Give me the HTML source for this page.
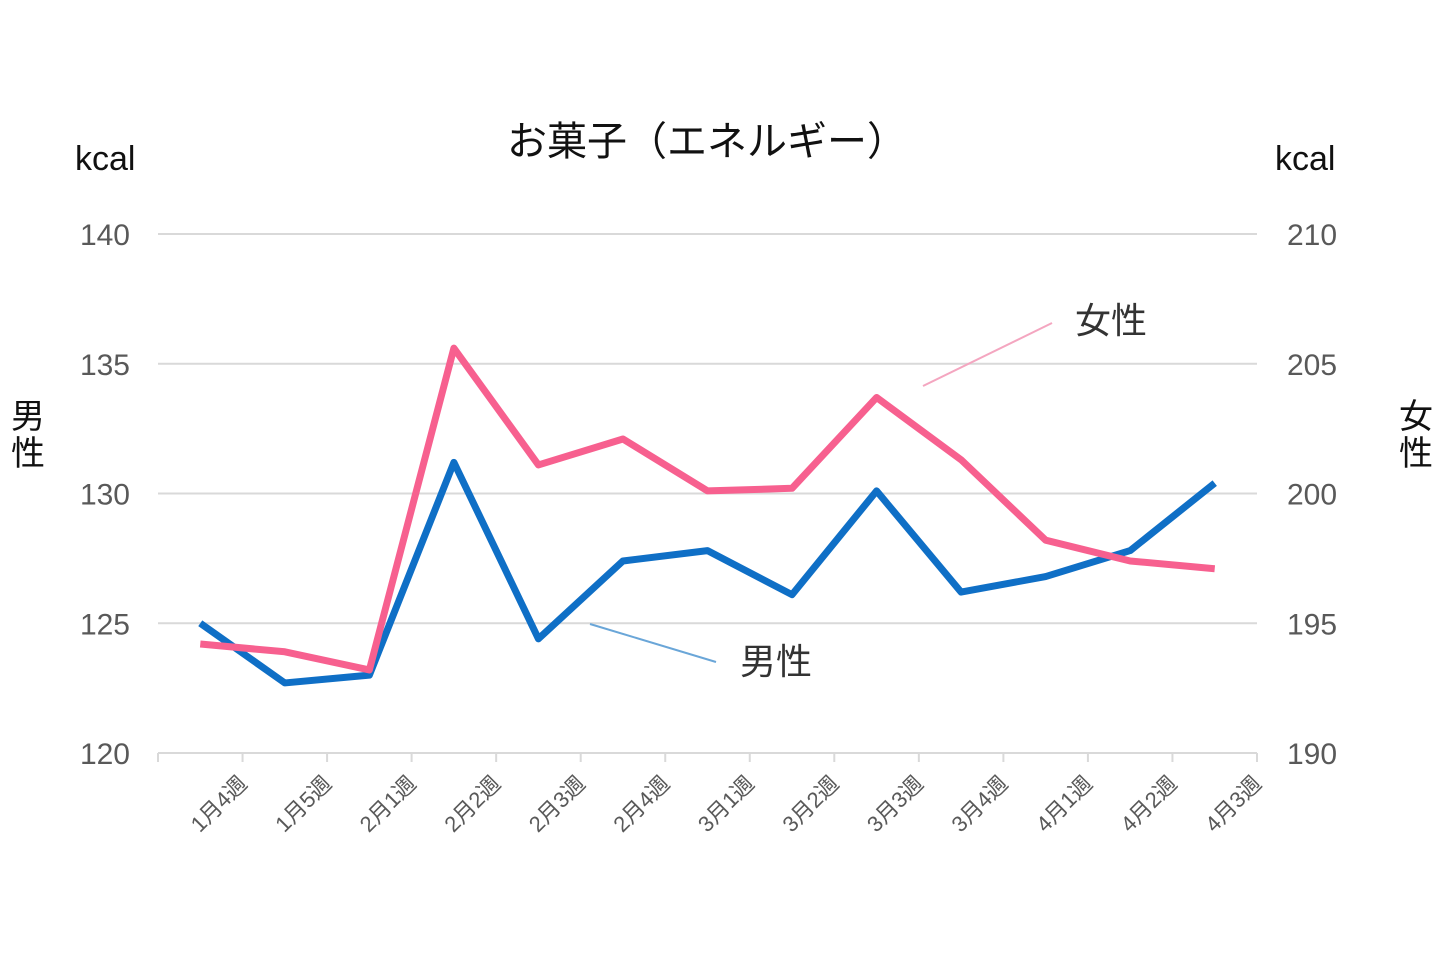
<!DOCTYPE html>
<html><head><meta charset="utf-8"><style>
html,body{margin:0;padding:0;background:#fff;}
svg{display:block;font-family:"Liberation Sans","Noto Sans CJK JP",sans-serif;}
</style></head><body>
<svg id="chart" width="1440" height="960" viewBox="0 0 1440 960">
<text x="707" y="155" text-anchor="middle" font-size="40" fill="#111">お菓子（エネルギー）</text>
<text x="75" y="170" font-size="34" fill="#111">kcal</text>
<text x="1275" y="170" font-size="34" fill="#111">kcal</text>
<text x="28" y="428" text-anchor="middle" font-size="34" fill="#111">男</text>
<text x="28" y="465" text-anchor="middle" font-size="34" fill="#111">性</text>
<text x="1416" y="428" text-anchor="middle" font-size="34" fill="#111">女</text>
<text x="1416" y="465" text-anchor="middle" font-size="34" fill="#111">性</text>
<g id="grid"></g><g id="xaxis"></g><g id="lines"></g>
<line x1="1052" y1="323" x2="923" y2="386" stroke="#f4a6c0" stroke-width="2"/>
<text x="1075" y="333" font-size="36" fill="#333">女性</text>
<line x1="590" y1="624" x2="716" y2="662" stroke="#6aa6d8" stroke-width="2"/>
<text x="740" y="674" font-size="36" fill="#333">男性</text>
</svg>
<script>
const categories=["1月4週","1月5週","2月1週","2月2週","2月3週","2月4週","3月1週","3月2週","3月3週","3月4週","4月1週","4月2週","4月3週"];
const maleValues=[125.0,122.7,123.0,131.2,124.4,127.4,127.8,126.1,130.1,126.2,126.8,127.8,130.4];
const femaleValues=[194.2,193.9,193.2,205.6,201.1,202.1,200.1,200.2,203.7,201.3,198.2,197.4,197.1];
const leftTicks=[120,125,130,135,140];
const rightTicks=[190,195,200,205,210];
const NS="http://www.w3.org/2000/svg";
const x0=158,x1=1257,yb=753,yt=234;
const bw=(x1-x0)/categories.length;
const xPos=i=>x0+bw*(i+0.5);
const yL=v=>yb-(v-120)/20*(yb-yt);
const yR=v=>yb-(v-190)/20*(yb-yt);
function mk(tag,attrs,parent){const e=document.createElementNS(NS,tag);for(const k in attrs)e.setAttribute(k,attrs[k]);parent.appendChild(e);return e;}
const grid=document.getElementById('grid');
leftTicks.forEach((t,i)=>{
 const g=mk('line',{x1:x0,x2:x1,y1:yL(t),y2:yL(t),stroke:'#d9d9d9','stroke-width':2},grid);
 
 
 const l=mk('text',{x:130,y:yL(t)+11,'text-anchor':'end','font-size':30,fill:'#595959'},grid);
 l.textContent=t;
 
 
 const r=mk('text',{x:1287,y:yR(rightTicks[i])+11,'font-size':30,fill:'#595959'},grid);
 r.textContent=rightTicks[i];
 
 
});
const xa=document.getElementById('xaxis');
for(let i=0;i<=categories.length;i++){
 const tk=mk('line',{x1:x0+bw*i,x2:x0+bw*i,y1:yb,y2:yb+9,stroke:'#d9d9d9','stroke-width':2},xa);
 
 
}
categories.forEach((c,i)=>{
 const x=xPos(i)+48,y=yb+32;
 const t=mk('text',{x:x,y:y,'text-anchor':'end','font-size':22,fill:'#595959',transform:`rotate(-45 ${x} ${y})`},xa);
 t.textContent=c;
 
 
});
const lines=document.getElementById('lines');
const mp=mk('polyline',{points:maleValues.map((v,i)=>xPos(i)+','+yL(v)).join(' '),fill:'none',stroke:'#0f6fc6','stroke-width':7,'stroke-linejoin':'round'},lines);


const fp=mk('polyline',{points:femaleValues.map((v,i)=>xPos(i)+','+yR(v)).join(' '),fill:'none',stroke:'#f7608f','stroke-width':7,'stroke-linejoin':'round'},lines);


</script>
</body></html>
